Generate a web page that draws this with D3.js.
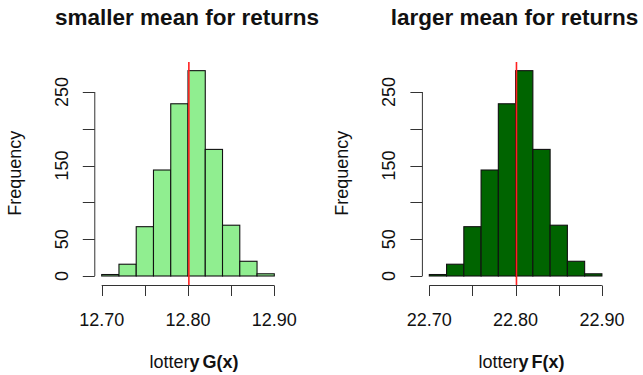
<!DOCTYPE html>
<html>
<head>
<meta charset="utf-8">
<script src="https://cdn.jsdelivr.net/npm/d3@7"></script>
<style>
  body { margin: 0; background: #fff; }
  text { font-family: "Liberation Sans", Arial, sans-serif; fill: #111; }
</style>
</head>
<body>
<script>
// histogram bins (width 0.02) and counts
var binStarts = [0, 0.02, 0.04, 0.06, 0.08, 0.10, 0.12, 0.14, 0.16, 0.18];
var countsG = [2, 16, 67, 144, 234, 279, 172, 69, 20, 3];
var countsF = [2, 16, 67, 144, 234, 279, 172, 69, 20, 3];
var yTicks = [0, 50, 100, 150, 200, 250];
var yLabels = [0, 50, 150, 250];
var titles = ["smaller mean for returns", "larger mean for returns"];
var origins = [12.70, 22.70];
var means = [12.801, 22.801];
var xLabelFn = ["G(x)", "F(x)"];
var fills = ["#90ee90", "#006400"];

var svg = d3.select("body").append("svg")
	.attr("width", 643)
	.attr("height", 375);

function translate(x, y)
{
	return "translate(" + x + "," + y + ")";
}

function makePanel(i, counts, left)
{
	var o = origins[i];
	var x = d3.scaleLinear()
		.domain([o, o + 0.2])
		.range([left, left + 172.6]);
	var y = d3.scaleLinear()
		.domain([0, 250])
		.range([276, 92]);
	var g = svg.append("g");

	var regionLeft = x(o - 0.008), regionRight = x(o + 0.208);

	// bars
	g.selectAll("rect")
		.data(counts)
		.enter().append("rect")
			.attr("x", function(d, j){return x(o + binStarts[j]);})
			.attr("width", function(d, j){return x(o + binStarts[j] + 0.02) - x(o + binStarts[j]);})
			.attr("y", function(d){return y(d);})
			.attr("height", function(d){return y(0) - y(d);})
			.attr("fill", fills[i])
			.attr("stroke", "#111")
			.attr("stroke-width", 1.1);

	// mean line
	g.append("line")
		.attr("x1", x(means[i])).attr("x2", x(means[i]))
		.attr("y1", 62).attr("y2", 285)
		.attr("stroke", "#ff2020")
		.attr("stroke-width", 1.6);

	// x axis
	var xTicks = [0, 0.05, 0.1, 0.15, 0.2].map(function(d){return o + d;});
	var xa = g.append("g").attr("stroke", "#333").attr("stroke-width", 1);
	xa.append("line")
		.attr("x1", x(xTicks[0])).attr("x2", x(xTicks[4]))
		.attr("y1", 285.5).attr("y2", 285.5);
	xa.selectAll(".xt").data(xTicks).enter().append("line")
		.attr("x1", function(d){return Math.round(x(d)) + 0.5;})
		.attr("x2", function(d){return Math.round(x(d)) + 0.5;})
		.attr("y1", 285.5).attr("y2", 296);
	g.selectAll(".xl").data([xTicks[0], xTicks[2], xTicks[4]]).enter().append("text")
		.attr("x", function(d){return x(d);})
		.attr("y", 326)
		.attr("text-anchor", "middle")
		.attr("font-size", 18)
		.text(function(d){return d3.format(".2f")(d);});

	// y axis
	var axisX = regionLeft;
	var ya = g.append("g").attr("stroke", "#333").attr("stroke-width", 1);
	ya.append("line")
		.attr("x1", axisX).attr("x2", axisX)
		.attr("y1", y(0)).attr("y2", y(250));
	ya.selectAll(".yt").data(yTicks).enter().append("line")
		.attr("x1", axisX - 12).attr("x2", axisX)
		.attr("y1", function(d){return Math.round(y(d)) + 0.5;})
		.attr("y2", function(d){return Math.round(y(d)) + 0.5;});
	g.selectAll(".yl").data(yLabels).enter().append("text")
		.attr("transform", function(d){return translate(axisX - 27, y(d)) + " rotate(-90)";})
		.attr("text-anchor", "middle")
		.attr("font-size", 18)
		.text(function(d){return d;});

	var mid = (regionLeft + regionRight) / 2;

	g.append("text")
		.attr("transform", translate(axisX - 74, 173.3) + " rotate(-90)")
		.attr("text-anchor", "middle")
		.attr("font-size", 18)
		.text("Frequency");

	var xl = g.append("text")
		.attr("x", mid + 6)
		.attr("y", 368)
		.attr("text-anchor", "middle")
		.attr("font-size", 18);
	xl.append("tspan").text("lotter");
	xl.append("tspan").attr("font-weight", "bold").text("y");
	xl.append("tspan").attr("font-weight", "bold").attr("dx", 3).text(xLabelFn[i]);

	g.append("text")
		.attr("x", mid - 1)
		.attr("y", 25)
		.attr("text-anchor", "middle")
		.attr("font-size", 22.5)
		.attr("font-weight", "bold")
		.attr("fill", "#000")
		.text(titles[i]);
}

makePanel(0, countsG, 101.7);
makePanel(1, countsF, 429.3);
</script>
</body>
</html>
